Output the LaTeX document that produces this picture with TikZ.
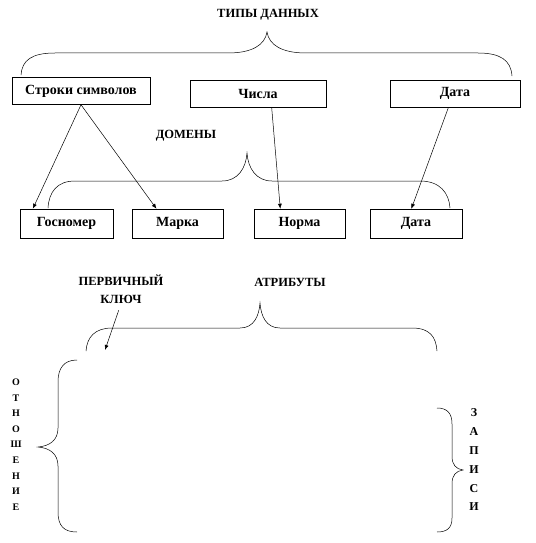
\documentclass[tikz,border=0pt]{standalone}
\usepackage{fontspec}
\setmainfont{Liberation Serif}
\usetikzlibrary{arrows.meta,calc}

\begin{document}
\begin{tikzpicture}[x=1pt,y=-1pt,>={Latex[length=5pt,width=4pt]},
  line width=0.5pt,
  typebox/.style={draw,minimum height=27pt,inner sep=0pt,font=\bfseries\fontsize{14}{16}\selectfont},
  label/.style={font=\bfseries\fontsize{12.5}{18}\selectfont,align=center,inner sep=0pt}
]
  \useasboundingbox (0,0) rectangle (535,543);

  % data types
  \node[label] (types) at (268,15) {ТИПЫ ДАННЫХ};
  \node[typebox,minimum width=138pt] (str) at (81,91) {Строки символов};
  \node[typebox,minimum width=136pt] (num) at (258,93.5) {Числа};
  \node[typebox,minimum width=130pt] (date) at (455,93.5) {Дата};
  \draw (21,75) .. controls (22,60) and (32,53) .. (55,53) -- (228,53)
    .. controls (252,53) and (265,45) .. (267,32)
    .. controls (269,45) and (282,53) .. (306,53) -- (478,53)
    .. controls (500,53) and (511,60) .. (512,76);

  % domains
  \node[label] (dom) at (186,136) {ДОМЕНЫ};
  \node[typebox,minimum width=93pt,minimum height=29pt] (gos) at (66.5,223.5) {Госномер};
  \node[typebox,minimum width=91pt,minimum height=29pt] (mark) at (177.5,223.5) {Марка};
  \node[typebox,minimum width=91pt,minimum height=29pt] (norm) at (299.5,223.5) {Норма};
  \node[typebox,minimum width=92pt,minimum height=29pt] (date2) at (416,223.5) {Дата};
  \draw (48,208) .. controls (49,192) and (57,181) .. (75,181) -- (222,181)
    .. controls (238,181) and (246,168) .. (247,153)
    .. controls (248,168) and (256,181) .. (272,181) -- (420,181)
    .. controls (440,181) and (449,193) .. (450,208);

  \draw[->] (str.south) -- ($(gos.north west)!0.14!(gos.north east)$);
  \draw[->] (str.south) -- ($(mark.north west)!0.27!(mark.north east)$);
  \draw[->] ($(num.south west)!0.6!(num.south east)$) -- ($(norm.north west)!0.29!(norm.north east)$);
  \draw[->] ($(date.south west)!0.45!(date.south east)$) -- ($(date2.north west)!0.45!(date2.north east)$);

  % relation
  \node[label] (key) at (121,289) {ПЕРВИЧНЫЙ\\КЛЮЧ};
  \node[label] (attr) at (290,282) {АТРИБУТЫ};
  \coordinate (pk) at (105,350);
  \draw[->,shorten <=7pt] (key.south) -- (pk);
  \draw (86,351) .. controls (87,337) and (95,328) .. (112,328) -- (240,328)
    .. controls (254,328) and (259,316) .. (260,303)
    .. controls (261,316) and (266,328) .. (280,328) -- (412,328)
    .. controls (430,328) and (436,337) .. (437,351);

  \draw (77,360) .. controls (64,360) and (58,368) .. (58,382) -- (58,428)
    .. controls (58,440) and (50,446) .. (38,447)
    .. controls (50,448) and (58,454) .. (58,466) -- (58,512)
    .. controls (58,526) and (64,532) .. (77,532);
  \draw (437,408) .. controls (447,408) and (452,413) .. (452,424) -- (452,456)
    .. controls (452,465) and (456,469) .. (463,470)
    .. controls (456,471) and (452,475) .. (452,484) -- (452,518)
    .. controls (452,528) and (447,532) .. (437,532);

  \node[font=\bfseries\fontsize{10}{15.6}\selectfont,align=center,inner sep=0pt] (rel)
    at (16,444.5) {О\\Т\\Н\\О\\Ш\\Е\\Н\\И\\Е};
  \node[font=\bfseries\fontsize{12}{18.8}\selectfont,align=center,inner sep=0pt] (rec)
    at (474,460) {З\\А\\П\\И\\С\\И};
\end{tikzpicture}
\end{document}
